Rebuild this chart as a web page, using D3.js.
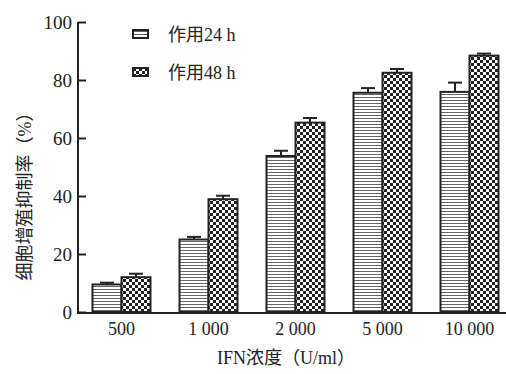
<!DOCTYPE html>
<html>
<head>
<meta charset="utf-8">
<script src="https://cdn.jsdelivr.net/npm/d3@7"></script>
<style>
body { margin: 0; background: #fff; }
text { font-family: "Liberation Serif", "Noto Sans CJK SC", serif; fill: #222; }
</style>
</head>
<body>
<svg width="506" height="374"></svg>
<script>
const doses = ["500", "1 000", "2 000", "5 000", "10 000"]
const series = ["作用24 h", "作用48 h"]
const val24 = [9.5, 25.0, 53.8, 75.6, 75.9]
const err24 = [0.6, 0.9, 1.8, 1.6, 3.2]
const val48 = [12.0, 38.9, 65.3, 82.5, 88.4]
const err48 = [1.2, 1.2, 1.6, 1.3, 0.7]
const yTicks = [0, 20, 40, 60, 80, 100]

const svg = d3.select("svg")
const mLeft = 78, mRight = 513, mTop = 22, mBottom = 312

const defs = svg.append("defs")
// horizontal stripes
const p1 = defs.append("pattern").attr("id", "stripe")
  .attr("patternUnits", "userSpaceOnUse").attr("width", 8).attr("height", 3)
p1.append("rect").attr("width", 8).attr("height", 3).attr("fill", "#fff")
p1.append("rect").attr("y", 1).attr("width", 8).attr("height", 1).attr("fill", "#666")
// checkerboard
const p2 = defs.append("pattern").attr("id", "check")
  .attr("patternUnits", "userSpaceOnUse").attr("width", 6).attr("height", 6)
p2.append("rect").attr("width", 6).attr("height", 6).attr("fill", "#fff")
p2.append("rect").attr("width", 3).attr("height", 3).attr("fill", "#222")
p2.append("rect").attr("x", 3).attr("y", 3).attr("width", 3).attr("height", 3).attr("fill", "#222")

const fills = ["url(#stripe)", "url(#check)"]

const x0 = d3.scaleBand().domain(doses).range([mLeft, mRight]).paddingInner(0).paddingOuter(0)
const x1 = d3.scaleBand().domain(series).range([0, x0.bandwidth()]).paddingInner(0).paddingOuter(0.5)
const y = d3.scaleLinear().domain([0, 100]).range([mBottom, mTop])

const data = doses.map((d, i) => ({
  dose: d,
  bars: [
    { s: series[0], v: val24[i], e: err24[i] },
    { s: series[1], v: val48[i], e: err48[i] }
  ]
}))

const groups = svg.selectAll("g.grp").data(data).join("g")
  .attr("class", "grp")
  .attr("transform", d => "translate(" + x0(d.dose) + ",0)")

// error bars
groups.selectAll("g.err").data(d => d.bars).join("g").attr("class", "err")
  .each(function (d) {
    const g = d3.select(this)
    const cx = x1(d.s) + x1.bandwidth() / 2
    g.append("line").attr("x1", cx).attr("x2", cx)
      .attr("y1", y(d.v)).attr("y2", y(d.v + d.e))
      .attr("stroke", "#222").attr("stroke-width", 2)
    g.append("line").attr("x1", cx - 7).attr("x2", cx + 7)
      .attr("y1", y(d.v + d.e)).attr("y2", y(d.v + d.e))
      .attr("stroke", "#222").attr("stroke-width", 2)
  })

groups.selectAll("rect").data(d => d.bars).join("rect")
  .attr("x", d => x1(d.s))
  .attr("y", d => y(d.v))
  .attr("width", x1.bandwidth())
  .attr("height", d => mBottom - y(d.v))
  .attr("fill", (d, i) => fills[i])
  .attr("stroke", "#222")
  .attr("stroke-width", 2)

// y axis
const yAxis = svg.append("g")
  .attr("transform", "translate(" + mLeft + ",0)")
  .call(d3.axisRight(y).tickValues(yTicks).tickSize(8).tickFormat(d3.format("d")))
yAxis.select(".domain").attr("stroke", "#222").attr("stroke-width", 2)
  .attr("d", "M0," + mTop + "V" + (mBottom + 1))
yAxis.selectAll(".tick line").attr("stroke", "#222").attr("stroke-width", 2)
yAxis.selectAll(".tick text")
  .attr("x", -6).attr("text-anchor", "end")
  .attr("font-size", 19).attr("font-family", "Liberation Serif").attr("fill", "#222")

// x axis
const xAxis = svg.append("g")
  .attr("transform", "translate(0," + (mBottom + 1) + ")")
  .call(d3.axisBottom(x0).tickSize(0).tickPadding(9))
xAxis.select(".domain").attr("stroke", "#222").attr("stroke-width", 2)
  .attr("d", "M" + (mLeft - 1) + ",0H506")
xAxis.selectAll(".tick text")
  .attr("font-size", 18).attr("font-family", "Liberation Serif").attr("fill", "#222")

// axis titles
svg.append("text")
  .attr("x", 286).attr("y", 364)
  .attr("text-anchor", "middle").attr("font-size", 18)
  .text("IFN浓度（U/ml）")

svg.append("text")
  .attr("transform", "translate(31,192) rotate(-90)")
  .attr("text-anchor", "middle").attr("font-size", 18)
  .text("细胞增殖抑制率（%）")

// legend
const leg = svg.selectAll("g.leg").data(series).join("g")
  .attr("class", "leg")
  .attr("transform", (d, i) => "translate(133," + (30 + i * 38) + ")")
leg.append("rect").attr("width", 15).attr("height", 8)
  .attr("fill", (d, i) => fills[i]).attr("stroke", "#222").attr("stroke-width", 2)
leg.append("text").attr("x", 35).attr("y", 11)
  .attr("font-size", 18).text(d => d)
</script>
</body>
</html>
